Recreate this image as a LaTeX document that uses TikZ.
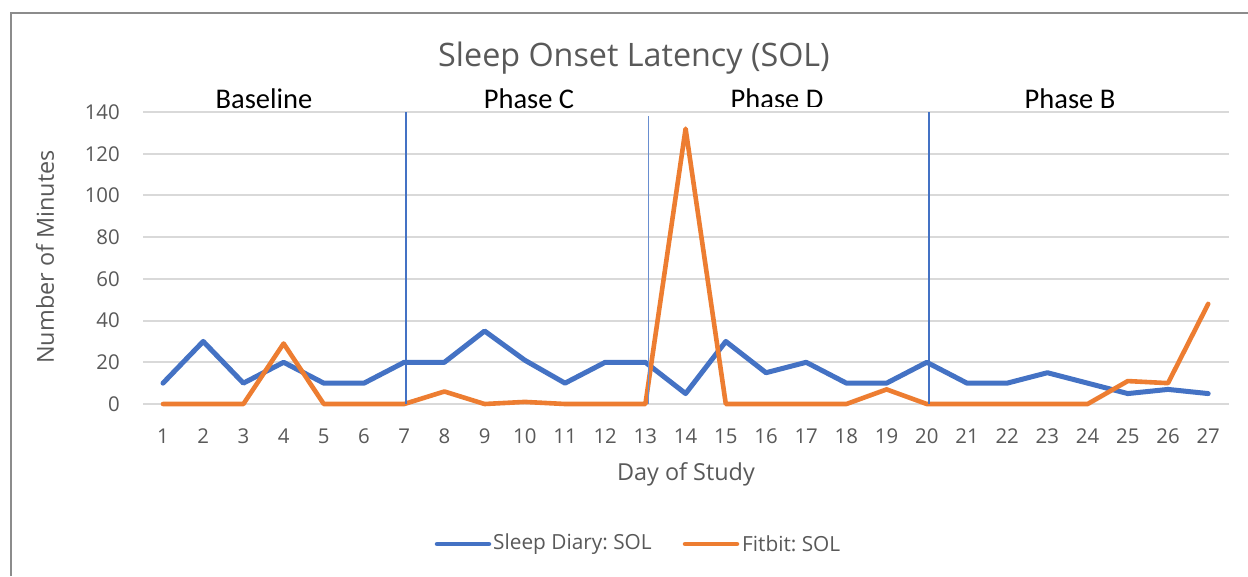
\documentclass[tikz,border=0pt]{standalone}
\usepackage{fontspec}
\setmainfont{Carlito}
\newfontfamily\segoe{Open Sans}
\frenchspacing
\definecolor{xblue}{HTML}{4472C4}
\definecolor{xorange}{HTML}{ED7D31}
\definecolor{xgray}{HTML}{595959}
\definecolor{xgrid}{HTML}{D9D9D9}
\definecolor{xframe}{HTML}{8C8C8C}
\tikzset{
  gridline/.style={draw=xgrid, line width=2pt},
  phaseline/.style={draw=xblue, line width=1.4pt},
  series/.style={line width=5pt, line join=round, line cap=round},
  ticklab/.style={text=xgray, font=\segoe\fontsize{20.4}{23}\selectfont, inner sep=0pt},
  axtitle/.style={text=xgray, font=\segoe\fontsize{23.4}{26}\selectfont, inner sep=0pt},
  phaselab/.style={text=black, font=\fontsize{28.5}{31}\selectfont, inner sep=0pt},
  legtext/.style={text=xgray, font=\segoe\fontsize{20.8}{24}\selectfont, inner sep=0pt, anchor=west},
}
\begin{document}
\begin{tikzpicture}[x=1pt,y=-1pt]
\useasboundingbox[fill=white] (0,0) rectangle (1248,576);
% frame
\draw[xframe, line width=1.5pt] (11,576) -- (11,13) -- (1248,13);
% title
\node[text=xgray, font=\segoe\fontsize{32.3}{36}\selectfont, inner sep=0pt] (title) at (634,58) {Sleep Onset Latency (SOL)};
% grid and y tick labels
\foreach \v [count=\i] in {0,20,...,140} {
  \draw[gridline] (143,404-\v*2.0857) -- (1229,404-\v*2.0857);
  \node[ticklab, anchor=east] (y\i) at (120,404-\v*2.0857) {\v};
}
% x tick labels
\foreach \d in {1,...,27} {
  \node[ticklab] (x\d) at (163+\d*40.2-40.2,436) {\d};
}
% axis titles
\node[axtitle] (xt) at (686,474) {Day of Study};
\node[axtitle, rotate=90] (yt) at (45,257) {Number of Minutes};
% phase labels
\node[phaselab] (pA) at (264,99) {Baseline};
\node[phaselab] (pC) at (529,99) {Phase C};
\begin{scope}
\clip (700,70) rectangle (860,106.5);
\node[phaselab] (pD) at (777,99) {Phase D};
\end{scope}
\node[phaselab] (pB) at (1070,99) {Phase B};
% data
\begin{scope}[shift={(122.8pt,-404pt)}, x=40.2pt, y=2.0857pt]
\draw[series, xblue] plot coordinates {(1,10) (2,30) (3,10) (4,20) (5,10) (6,10) (7,20) (8,20) (9,35) (10,21) (11,10) (12,20) (13,20) (14,5) (15,30) (16,15) (17,20) (18,10) (19,10) (20,20) (21,10) (22,10) (23,15) (24,10) (25,5) (26,7) (27,5)};
\draw[series, xorange, line width=4.6pt] plot coordinates {(1,0) (2,0) (3,0) (4,29) (5,0) (6,0) (7,0) (8,6) (9,0) (10,1) (11,0) (12,0) (13,0) (14,132) (15,0) (16,0) (17,0) (18,0) (19,7) (20,0) (21,0) (22,0) (23,0) (24,0) (25,11) (26,10) (27,48)};
\end{scope}
% phase lines
\draw[phaseline] (406,112) -- (406,404);
\draw[phaseline, line width=1pt, draw=xblue!80] (648,116) -- (648,404);
\draw[phaseline] (929,112) -- (929,404);
% legend
\coordinate (l1a) at (437,544);
\coordinate (l1b) at (489,544);
\draw[series, xblue, line width=4.5pt] (l1a) -- (l1b);
\node[legtext] (l1) at (493,544) {Sleep Diary: SOL};
\coordinate (l2a) at (685,544);
\coordinate (l2b) at (737,544);
\draw[series, xorange, line width=4.5pt] (l2a) -- (l2b);
\node[legtext] (l2) at (742,544) {Fitbit: SOL};
\end{tikzpicture}
\end{document}
